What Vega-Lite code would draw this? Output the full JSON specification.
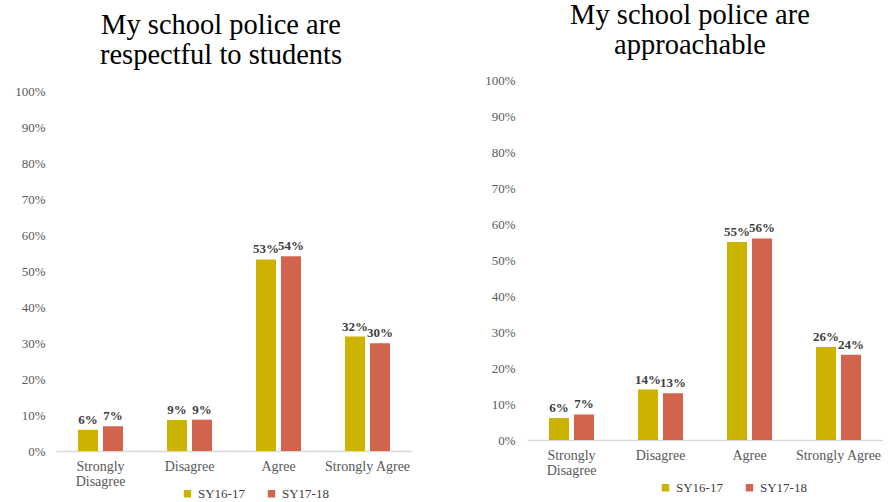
{
  "$schema": "https://vega.github.io/schema/vega-lite/v6.json",
  "background": "white",
  "padding": {"left": 14, "top": 0, "right": 0, "bottom": 0},
  "spacing": 72,
  "config": {
    "view": {"stroke": null},
    "font": "Liberation Serif",
    "title": {"font": "Liberation Serif", "fontSize": 28.5, "fontWeight": "normal", "color": "#000000", "lineHeight": 30, "anchor": "middle", "frame": "group"},
    "axis": {"grid": false, "ticks": false, "labelFont": "Liberation Serif", "labelColor": "#595959", "title": null},
    "legend": {"labelFont": "Liberation Serif", "labelFontSize": 13, "labelColor": "#404040", "symbolType": "square", "symbolSize": 55, "symbolStrokeWidth": 0, "orient": "none", "direction": "horizontal", "title": null, "padding": 0, "columnPadding": 20, "labelOffset": 4}
  },
  "datasets": {
    "respect": [
      {"category": "Strongly Disagree", "year": "SY16-17", "value": 0.059},
      {"category": "Strongly Disagree", "year": "SY17-18", "value": 0.069},
      {"category": "Disagree", "year": "SY16-17", "value": 0.086},
      {"category": "Disagree", "year": "SY17-18", "value": 0.087},
      {"category": "Agree", "year": "SY16-17", "value": 0.532},
      {"category": "Agree", "year": "SY17-18", "value": 0.541},
      {"category": "Strongly Agree", "year": "SY16-17", "value": 0.318},
      {"category": "Strongly Agree", "year": "SY17-18", "value": 0.299}
    ],
    "approach": [
      {"category": "Strongly Disagree", "year": "SY16-17", "value": 0.061},
      {"category": "Strongly Disagree", "year": "SY17-18", "value": 0.071},
      {"category": "Disagree", "year": "SY16-17", "value": 0.14},
      {"category": "Disagree", "year": "SY17-18", "value": 0.13},
      {"category": "Agree", "year": "SY16-17", "value": 0.55},
      {"category": "Agree", "year": "SY17-18", "value": 0.56},
      {"category": "Strongly Agree", "year": "SY16-17", "value": 0.258},
      {"category": "Strongly Agree", "year": "SY17-18", "value": 0.237}
    ]
  },
  "hconcat": [
    {
      "width": 356,
      "height": 371,
      "data": {"name": "respect"},
      "title": {"text": ["My school police are", "respectful to students"], "dx": -13, "offset": 11},
      "encoding": {
        "x": {"field": "category", "type": "nominal", "sort": ["Strongly Disagree", "Disagree", "Agree", "Strongly Agree"],
          "scale": {"paddingInner": 0.494, "paddingOuter": 0.247},
          "axis": {"labelAngle": 0, "labelFontSize": 14, "labelPadding": 8, "domainColor": "#d9d9d9", "domainWidth": 1.5, "labelLineHeight": 15,
            "labelExpr": "datum.label == 'Strongly Disagree' ? ['Strongly', 'Disagree'] : datum.label"}},
        "xOffset": {"field": "year", "type": "nominal", "scale": {"paddingInner": 0.2, "paddingOuter": 0}},
        "y": {"field": "value", "type": "quantitative",
          "scale": {"domain": [0, 1], "range": [371, 11], "nice": false},
          "axis": {"domain": false, "format": ".0%", "values": [0, 0.1, 0.2, 0.3, 0.4, 0.5, 0.6, 0.7, 0.8, 0.9, 1], "labelFontSize": 13, "labelPadding": 11}}
      },
      "layer": [
        {"mark": {"type": "bar"},
          "encoding": {"color": {"field": "year", "type": "nominal", "scale": {"domain": ["SY16-17", "SY17-18"], "range": ["#CBB300", "#D2634C"]},
            "legend": {"legendX": 125, "legendY": 407}}}},
        {"mark": {"type": "text", "baseline": "alphabetic", "dy": -6, "fontWeight": "bold", "fontSize": 13, "color": "#404040", "font": "Liberation Serif"},
          "encoding": {"text": {"field": "value", "type": "quantitative", "format": ".0%"}}}
      ]
    },
    {
      "width": 356,
      "height": 360,
      "data": {"name": "approach"},
      "title": {"text": ["My school police are", "approachable"], "dx": -15, "offset": 15},
      "encoding": {
        "x": {"field": "category", "type": "nominal", "sort": ["Strongly Disagree", "Disagree", "Agree", "Strongly Agree"],
          "scale": {"paddingInner": 0.494, "paddingOuter": 0.247},
          "axis": {"labelAngle": 0, "labelFontSize": 14, "labelPadding": 8, "domainColor": "#d9d9d9", "domainWidth": 1.5, "labelLineHeight": 15,
            "labelExpr": "datum.label == 'Strongly Disagree' ? ['Strongly', 'Disagree'] : datum.label"}},
        "xOffset": {"field": "year", "type": "nominal", "scale": {"paddingInner": 0.2, "paddingOuter": 0}},
        "y": {"field": "value", "type": "quantitative",
          "scale": {"domain": [0, 1], "nice": false},
          "axis": {"domain": false, "format": ".0%", "values": [0, 0.1, 0.2, 0.3, 0.4, 0.5, 0.6, 0.7, 0.8, 0.9, 1], "labelFontSize": 13, "labelPadding": 12}}
      },
      "layer": [
        {"mark": {"type": "bar"},
          "encoding": {"color": {"field": "year", "type": "nominal", "scale": {"domain": ["SY16-17", "SY17-18"], "range": ["#CBB300", "#D2634C"]},
            "legend": {"legendX": 132, "legendY": 401}}}},
        {"mark": {"type": "text", "baseline": "alphabetic", "dy": -6, "fontWeight": "bold", "fontSize": 13, "color": "#404040", "font": "Liberation Serif"},
          "encoding": {"text": {"field": "value", "type": "quantitative", "format": ".0%"}}}
      ]
    }
  ],
  "resolve": {"scale": {"color": "independent", "y": "independent", "x": "independent"}, "legend": {"color": "independent"}}
}
